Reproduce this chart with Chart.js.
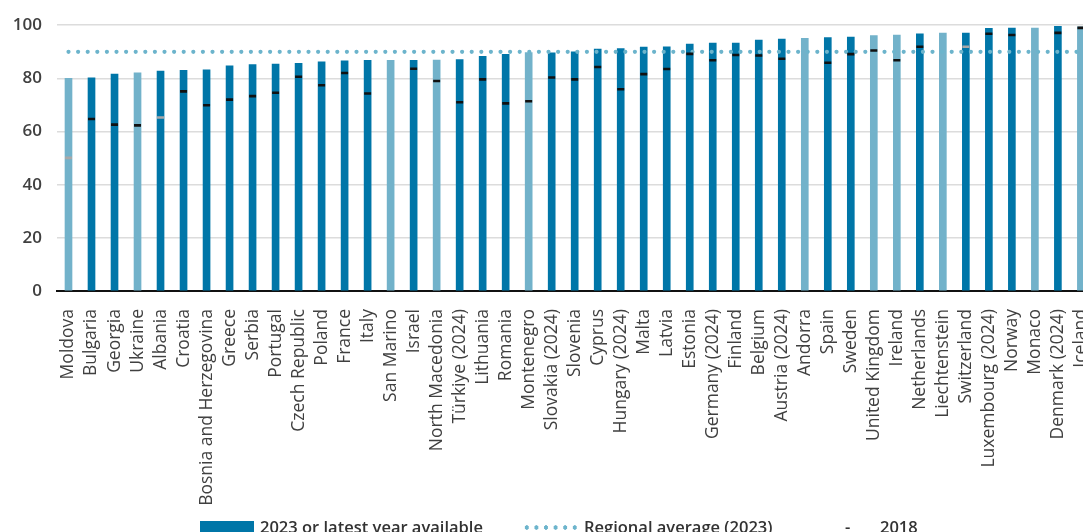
<!DOCTYPE html>
<html>
<head>
<meta charset="utf-8">
<script src="https://cdn.jsdelivr.net/npm/chart.js@4"></script>
<style>
  body { margin: 0; overflow: hidden; background: #fff; width: 1083px; height: 532px; }
  #wrap { position: relative; width: 1099px; height: 532px; }
  .legend { position: absolute; top: 515px; left: 0; width: 1083px; height: 30px;
            font-family: "Open Sans", sans-serif; font-weight: 600; font-size: 16.5px; color: #333; }
  .legend span { position: absolute; white-space: nowrap; }
</style>
</head>
<body>
<div id="wrap">
  <canvas id="chart" width="1099" height="532"></canvas>
  <div class="legend">
    <span style="left:200px; top:6px; width:54px; height:14px; background:#0076a8;"></span>
    <span style="left:260px; top:0px;">2023 or latest year available</span>
    <span style="left:522px; top:10px; width:58px; height:5px;
      background: radial-gradient(circle, #6cb4cc 2px, transparent 2.4px) 0 0 / 9.6px 5px repeat-x;"></span>
    <span style="left:584px; top:0px;">Regional average (2023)</span>
    <span style="left:845px; top:0px;">-</span>
    <span style="left:880px; top:0px;">2018</span>
  </div>
</div>
<script>
const countries = ["Moldova", "Bulgaria", "Georgia", "Ukraine", "Albania", "Croatia",
  "Bosnia and Herzegovina", "Greece", "Serbia", "Portugal", "Czech Republic", "Poland",
  "France", "Italy", "San Marino", "Israel", "North Macedonia", "Türkiye (2024)", "Lithuania",
  "Romania", "Montenegro", "Slovakia (2024)", "Slovenia", "Cyprus", "Hungary (2024)", "Malta",
  "Latvia", "Estonia", "Germany (2024)", "Finland", "Belgium", "Austria (2024)", "Andorra",
  "Spain", "Sweden", "United Kingdom", "Ireland", "Netherlands", "Liechtenstein",
  "Switzerland", "Luxembourg (2024)", "Norway", "Monaco", "Denmark (2024)", "Iceland"];

const latest = [80.0, 80.2, 81.6, 82.1, 82.7, 83.0,
  83.2, 84.7, 85.2, 85.4, 85.7, 86.2,
  86.6, 86.8, 86.8, 86.8, 86.9, 87.1, 88.3,
  89.0, 89.7, 89.6, 90.0, 91.0, 91.2, 91.8,
  91.9, 92.9, 93.3, 93.3, 94.4, 94.8, 95.1,
  95.3, 95.5, 96.1, 96.3, 96.8, 97.0,
  97.0, 98.8, 98.9, 98.9, 99.6, 99.4];

const y2018 = [50.1, 64.7, 62.6, 62.3, 65.3, 75.1,
  69.9, 72.0, 73.3, 74.6, 80.6, 77.4,
  82.0, 74.3, null, 83.6, 79.0, 71.0, 79.6,
  70.6, 71.4, 80.3, 79.6, 84.3, 75.9, 81.6,
  83.5, 89.2, 86.8, 88.8, 88.6, 87.4, null,
  85.9, 89.1, 90.5, 86.8, 91.9, null,
  91.9, 96.8, 96.3, null, 97.1, 99.0];

// light bars = non-highlighted countries, grey dash = 2018 estimate
const lightBars = ["Moldova", "Ukraine", "San Marino", "North Macedonia", "Montenegro",
  "Andorra", "United Kingdom", "Ireland", "Liechtenstein", "Monaco", "Iceland"];
const greyDash = ["Moldova", "Albania", "Switzerland"];

const regionalAverage = 90;
const yTicks = [0, 20, 40, 60, 80, 100];

const darkBlue = "#0076a8";
const lightBlue = "#72b2ca";

new Chart(document.getElementById("chart"), {
  type: "bar",
  data: {
    labels: countries,
    datasets: [
      {
        label: "2023 or latest year available",
        data: latest,
        backgroundColor: countries.map(c => lightBars.includes(c) ? lightBlue : darkBlue),
        barThickness: 7,
        order: 3
      },
      {
        type: "line",
        label: "Regional average (2023)",
        data: countries.map(() => regionalAverage),
        borderColor: "#6cb4cc",
        borderWidth: 4.2,
        borderDash: [0, 9.6],
        borderCapStyle: "round",
        pointRadius: 0,
        fill: false,
        order: 2
      },
      {
        type: "line",
        label: "2018",
        data: y2018,
        showLine: false,
        pointStyle: "line",
        pointRadius: 3.5,
        pointBorderWidth: 2.6,
        pointBorderColor: countries.map(c => greyDash.includes(c) ? "#a8a8a8" : "#111"),
        pointBackgroundColor: "#111",
        order: 1
      }
    ]
  },
  options: {
    responsive: false,
    animation: false,
    layout: { padding: { top: 23, right: 2, bottom: 0, left: 0 } },
    plugins: { legend: { display: false }, tooltip: { enabled: false } },
    scales: {
      x: {
        grid: { display: false },
        border: { color: "#111", width: 2 },
        ticks: {
          autoSkip: false,
          maxRotation: 90,
          minRotation: 90,
          padding: 10,
          color: "#404040",
          font: { family: "Open Sans", size: 17.5 }
        },
        afterFit: s => { s.height = 241; s.paddingLeft = 0; s.paddingRight = 0; }
      },
      y: {
        min: 0,
        max: 100,
        afterBuildTicks: s => { s.ticks = yTicks.map(v => ({ value: v })); },
        grid: { color: "#dcdcdc", lineWidth: 1.5, drawTicks: false },
        border: { display: false },
        ticks: {
          padding: 15,
          color: "#404040",
          font: { family: "Open Sans", size: 17, weight: "600" }
        },
        afterFit: s => { s.width = 57; }
      }
    }
  }
});
</script>
</body>
</html>
